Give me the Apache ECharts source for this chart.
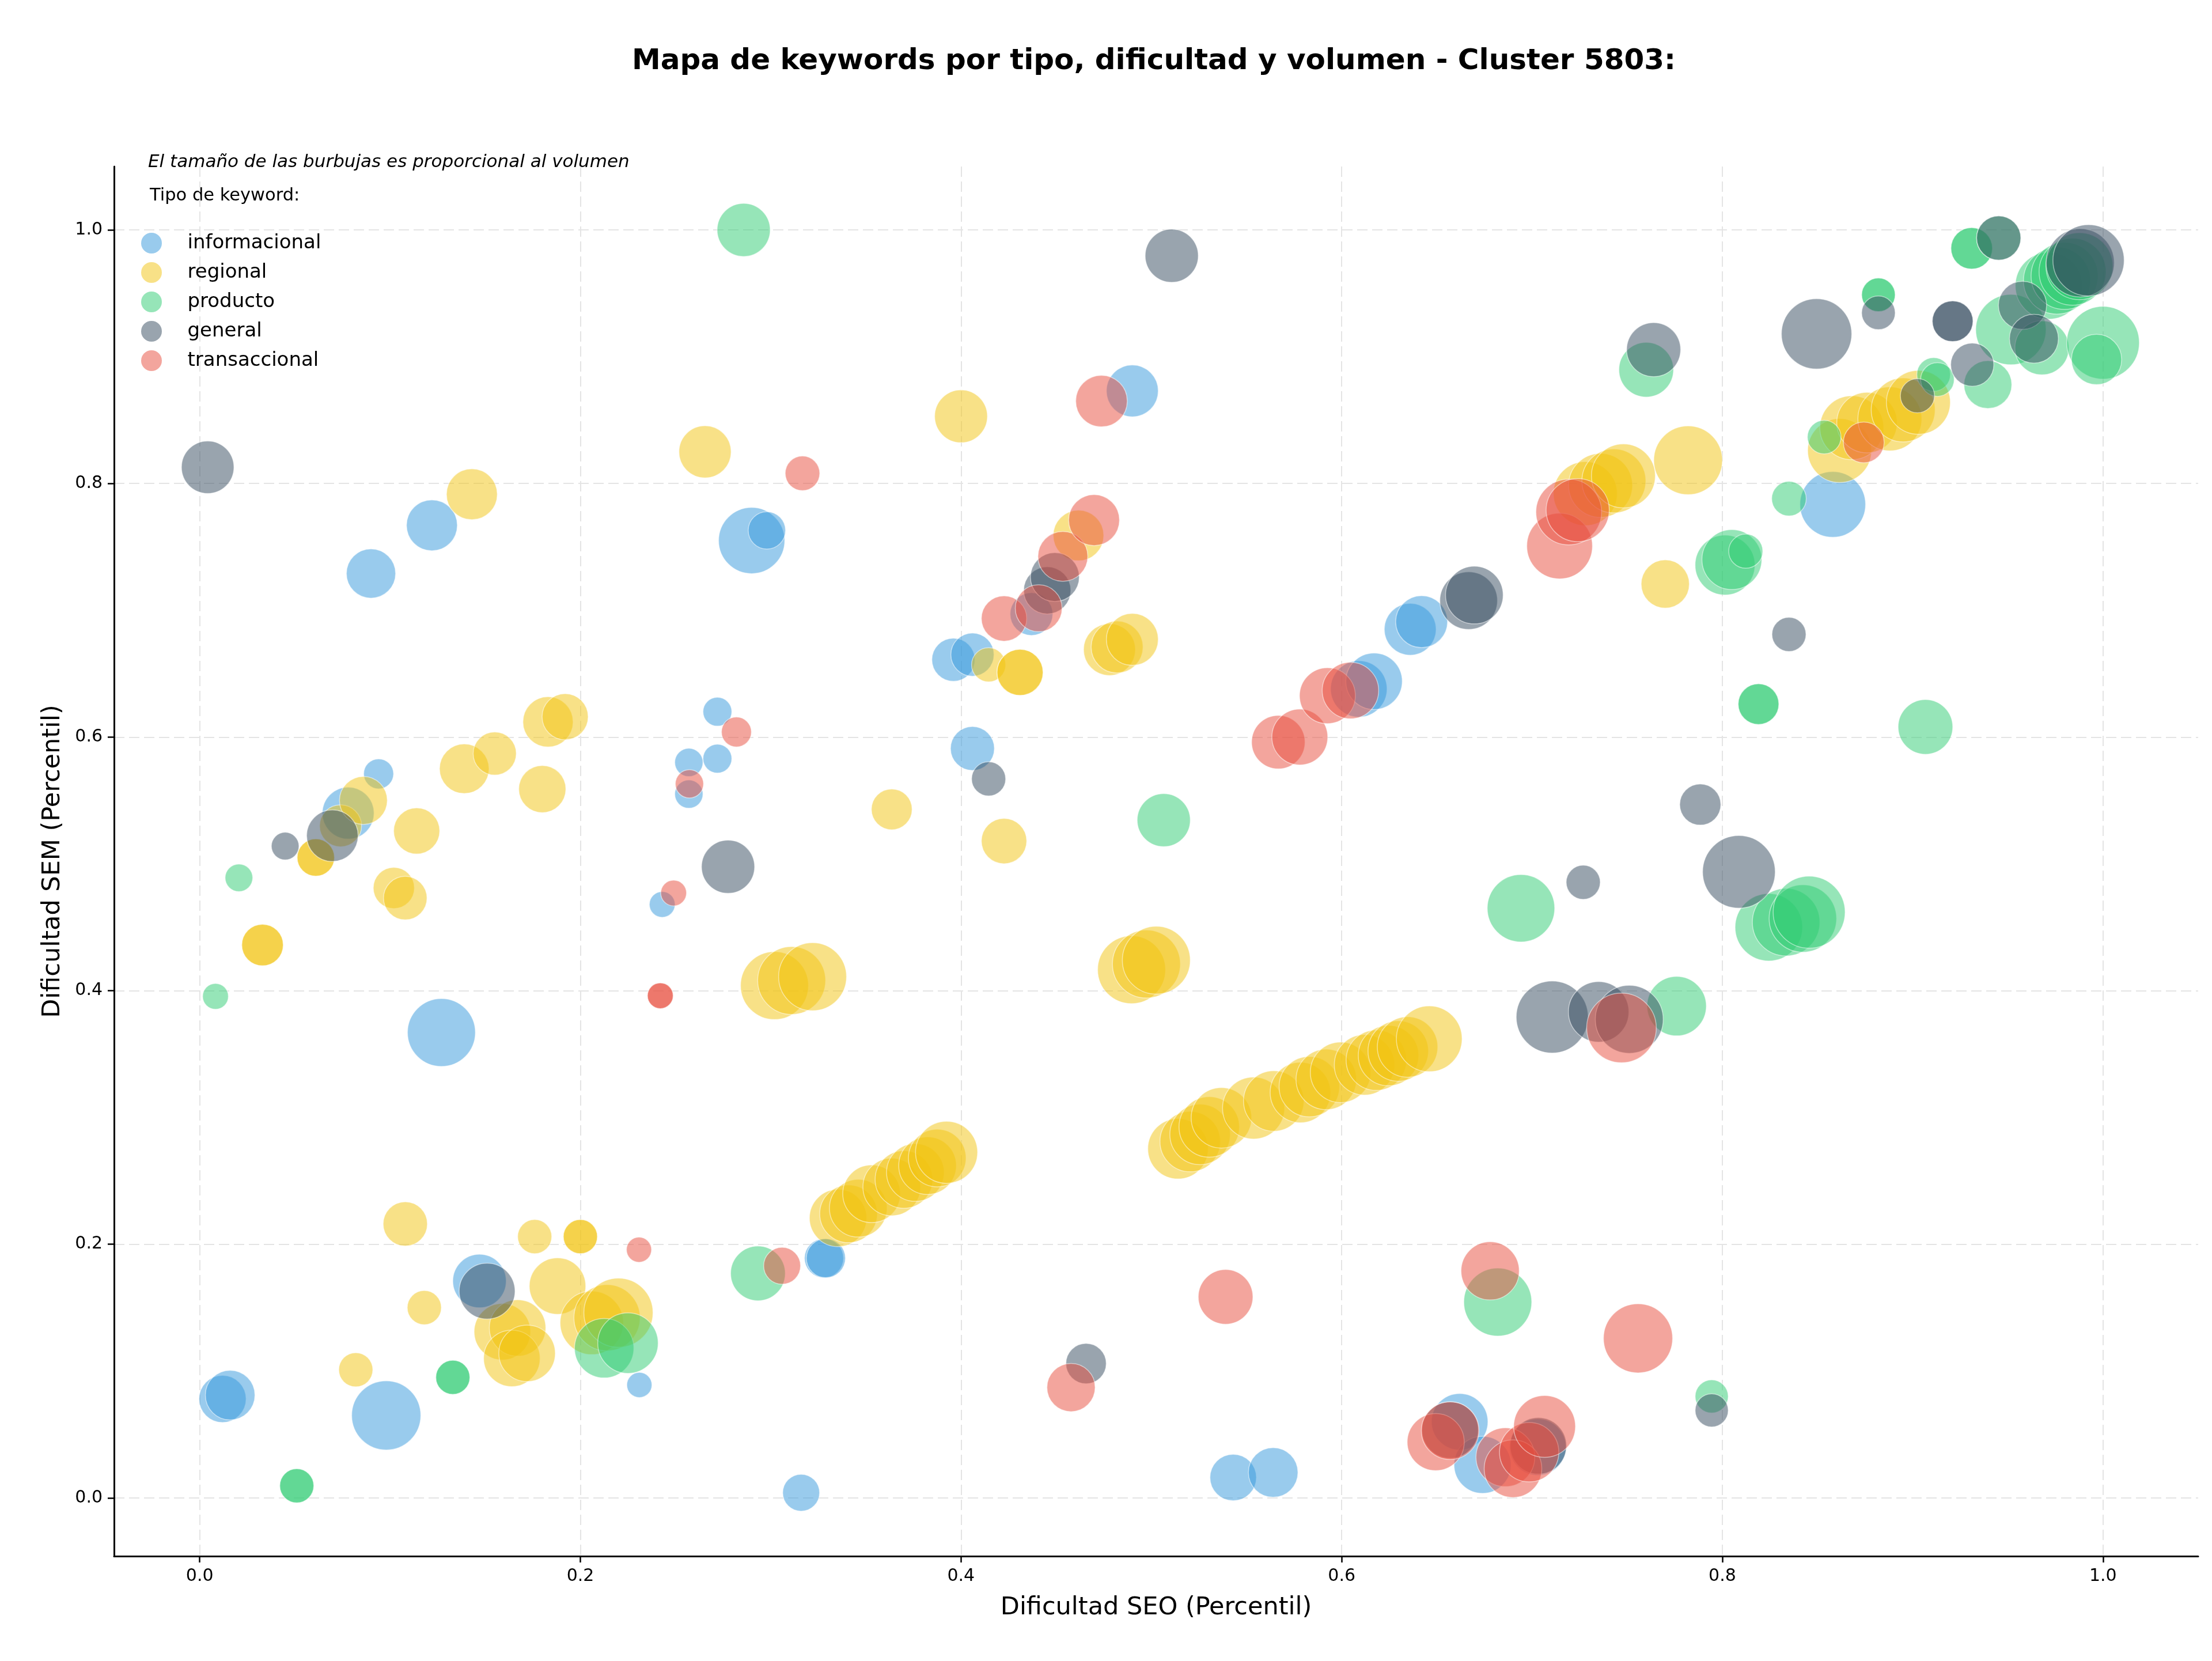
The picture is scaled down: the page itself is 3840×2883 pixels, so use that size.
<!DOCTYPE html>
<html><head><meta charset="utf-8">
<script src="https://cdn.jsdelivr.net/npm/echarts@6/dist/echarts.min.js"></script>
<style>html,body{margin:0;padding:0;background:#fff}#c{width:3840px;height:2883px}</style>
</head><body><div id="c"></div>
<script>
const titleText = 'Mapa de keywords por tipo, dificultad y volumen - Cluster 5803:';
const noteText = 'El tamaño de las burbujas es proporcional al volumen';
const legendTitle = 'Tipo de keyword:';
const xName = 'Dificultad SEO (Percentil)';
const yName = 'Dificultad SEM (Percentil)';
const categories = ['informacional', 'regional', 'producto', 'general', 'transaccional'];
const colors = ['#3498db', '#f1c40f', '#2ecc71', '#34495e', '#e74c3c'];
const xTicks = [0.0, 0.2, 0.4, 0.6, 0.8, 1.0];
const yTicks = [0.0, 0.2, 0.4, 0.6, 0.8, 1.0];

// [dificultad SEO, dificultad SEM, volumen]
const informacional = [
  [0.012,0.078,6700],[0.016,0.081,7400],[0.098,0.065,14400],[0.127,0.367,13900],
  [0.147,0.171,8600],[0.090,0.729,7300],[0.122,0.767,7800],[0.094,0.571,2700],
  [0.078,0.540,8100],[0.231,0.089,1900],[0.243,0.468,2000],[0.257,0.580,2400],
  [0.257,0.555,2400],[0.272,0.620,2500],[0.272,0.583,2500],[0.290,0.755,13200],
  [0.298,0.763,4200],[0.316,0.004,4100],[0.328,0.189,4600],[0.329,0.189,4600],
  [0.396,0.661,5600],[0.406,0.665,5600],[0.406,0.591,5800],[0.437,0.697,5500],
  [0.490,0.873,8100],[0.543,0.016,6500],[0.564,0.020,7400],[0.609,0.638,9600],
  [0.617,0.644,9600],[0.636,0.685,8100],[0.642,0.691,8100],[0.662,0.060,9600],
  [0.674,0.026,9800],[0.703,0.040,9600],[0.858,0.7835,13000]
];
const regional = [
  [0.033,0.436,5200],[0.033,0.436,5200],[0.061,0.505,4200],[0.061,0.505,4200],
  [0.074,0.530,5300],[0.086,0.550,6900],[0.102,0.481,5100],[0.108,0.473,5700],
  [0.114,0.526,6400],[0.139,0.575,7400],[0.155,0.587,5600],[0.143,0.7915,7800],
  [0.180,0.559,6700],[0.183,0.612,7600],[0.192,0.616,6400],[0.108,0.216,5900],
  [0.118,0.150,3500],[0.082,0.101,3500],[0.176,0.206,3500],[0.200,0.206,3500],
  [0.200,0.206,3500],[0.188,0.167,9600],[0.159,0.131,9600],[0.167,0.134,9600],
  [0.164,0.110,9600],[0.172,0.114,9600],[0.206,0.138,12100],[0.214,0.142,13200],
  [0.220,0.146,14400],[0.2655,0.825,8200],[0.400,0.853,8400],[0.4145,0.657,3500],
  [0.431,0.651,6400],[0.431,0.651,6400],[0.3636,0.543,5000],[0.4226,0.518,6200],
  [0.4617,0.759,7700],[0.478,0.669,8100],[0.482,0.671,8100],[0.490,0.677,8100],
  [0.302,0.404,13900],[0.311,0.408,13900],[0.322,0.411,13900],
  [0.4896,0.4165,13900],[0.4974,0.421,13900],[0.5026,0.424,13900],
  [0.3354,0.2207,9900],[0.3409,0.224,10000],[0.346,0.2284,10000],[0.353,0.2398,10000],
  [0.3636,0.2452,10000],[0.370,0.2511,10000],[0.376,0.2566,10000],[0.3824,0.262,10000],
  [0.3875,0.268,10000],[0.3924,0.2725,11600],
  [0.514,0.2753,11000],[0.5204,0.281,11000],[0.5256,0.2866,11000],[0.5304,0.2925,11000],
  [0.5368,0.2997,11000],[0.5537,0.3074,11600],[0.5643,0.313,11000],[0.5783,0.3197,11000],
  [0.583,0.3243,11000],[0.5919,0.330,11000],[0.5994,0.3356,11000],[0.612,0.3415,11000],
  [0.6182,0.3452,11000],[0.6246,0.3488,11000],[0.6297,0.3524,11000],[0.6346,0.3556,11000],
  [0.646,0.362,13000],
  [0.770,0.7207,7000],[0.782,0.8183,14200],[0.728,0.792,12300],[0.736,0.7985,12300],
  [0.743,0.802,12300],[0.748,0.806,12300],[0.8616,0.826,12300],[0.868,0.844,12300],
  [0.876,0.848,11000],[0.888,0.851,12300],[0.895,0.858,12300],[0.903,0.864,12300]
];
const producto = [
  [0.0083,0.3955,2000],[0.0206,0.489,2300],[0.051,0.0095,3500],[0.051,0.0095,3500],
  [0.133,0.095,3500],[0.133,0.095,3500],[0.2125,0.118,10600],[0.225,0.122,11000],
  [0.2858,1.0,8500],[0.2933,0.177,9000],[0.5065,0.5345,8500],[0.6942,0.465,13700],
  [0.682,0.1544,13900],[0.760,0.8897,9000],[0.776,0.3878,10600],[0.7944,0.080,3300],
  [0.8014,0.7357,10800],[0.805,0.740,10800],[0.8123,0.7466,3500],[0.819,0.626,5000],
  [0.819,0.626,5000],[0.8244,0.450,13700],[0.8335,0.454,13700],[0.8423,0.4569,13700],
  [0.8456,0.4619,15600],[0.835,0.788,3600],[0.8535,0.8366,3400],[0.882,0.9488,3400],
  [0.882,0.9488,3400],[0.9067,0.608,9000],[0.911,0.886,3400],[0.913,0.882,3400],
  [0.931,0.9855,5200],[0.931,0.9855,5200],[0.9395,0.878,6900],[0.9516,0.9214,14900],
  [0.9679,0.907,8800],[0.9715,0.956,13500],[0.9758,0.960,13500],[0.9798,0.9637,13500],
  [0.984,0.967,13500],[0.9876,0.9714,13500],[1.0,0.911,15900],[0.9966,0.8978,7600],
  [0.9452,0.9936,5900]
];
const general = [
  [0.0042,0.8128,8300],[0.0449,0.514,2300],[0.0697,0.5222,8000],[0.151,0.163,9400],
  [0.2776,0.4977,8500],[0.4145,0.567,3500],[0.4453,0.7157,6700],[0.4493,0.7262,7200],
  [0.4657,0.1059,4900],[0.5107,0.9796,8500],[0.6667,0.7076,10000],[0.6697,0.712,10000],
  [0.657,0.0535,9600],[0.7033,0.041,9600],[0.7106,0.3792,15600],[0.735,0.3833,11000],
  [0.7511,0.3774,13900],[0.7269,0.4855,3500],[0.7639,0.9056,8800],[0.7884,0.5468,5100],
  [0.8087,0.4937,15900],[0.835,0.681,3500],[0.8495,0.918,14900],[0.882,0.9346,3400],
  [0.9025,0.8692,3500],[0.921,0.928,5000],[0.921,0.928,5000],[0.9313,0.8937,5600],
  [0.9452,0.9936,5900],[0.9577,0.9405,7000],[0.9637,0.9142,7200],[0.988,0.974,14000],
  [0.9924,0.976,15300],[0.7944,0.069,3300]
];
const transaccional = [
  [0.2308,0.1957,1900],[0.242,0.396,2000],[0.242,0.396,2000],[0.249,0.477,2000],
  [0.2573,0.5631,2400],[0.282,0.604,2700],[0.306,0.183,4100],[0.3167,0.808,3600],
  [0.4226,0.6935,6200],[0.4408,0.7016,6600],[0.4535,0.7425,7500],[0.4699,0.7711,7800],
  [0.4738,0.865,8000],[0.4578,0.087,7000],[0.539,0.1585,9000],[0.5667,0.596,8600],
  [0.578,0.600,9400],[0.5925,0.6326,9400],[0.6046,0.6367,9600],[0.6494,0.044,9800],
  [0.657,0.053,10000],[0.678,0.179,10200],[0.686,0.032,10400],[0.690,0.023,10000],
  [0.6985,0.036,10600],[0.7066,0.0563,11500],[0.7145,0.7507,13000],[0.7193,0.7775,13000],
  [0.724,0.779,12000],[0.747,0.3706,14600],[0.7557,0.1258,14400],[0.8743,0.8324,5000]
];
const seriesData = [informacional, regional, producto, general, transaccional];

const FONT = 'DejaVu Sans';
const chart = echarts.init(document.getElementById('c'), null, {renderer: 'canvas', width: 3840, height: 2883, devicePixelRatio: 1});

function axisCommon(ticks) {
  return {
    type: 'value',
    axisLine: {show: true, onZero: false, lineStyle: {color: '#000', width: 3}},
    axisTick: {show: true, customValues: ticks, length: 11, lineStyle: {color: '#000', width: 2.5}},
    axisLabel: {show: true, customValues: ticks, formatter: v => Number(v).toFixed(1),
      fontSize: 30, color: '#000', fontFamily: FONT, margin: 20},
    splitLine: {show: true, lineStyle: {color: '#e4e4e4', width: 2, type: [18, 8]}},
    nameLocation: 'middle',
    nameTextStyle: {fontSize: 43, color: '#000', fontFamily: FONT}
  };
}

const option = {
  backgroundColor: '#ffffff',
  animation: false,
  textStyle: {fontFamily: FONT},
  grid: {left: 198, right: 24, top: 289, bottom: 182, containLabel: false},
  xAxis: Object.assign(axisCommon(xTicks), {min: -0.045, max: 1.05, name: xName, nameGap: 68}),
  yAxis: Object.assign(axisCommon(yTicks), {min: -0.046, max: 1.05, name: yName, nameGap: 85}),
  legend: {
    orient: 'vertical', left: 240, top: 399,
    itemWidth: 115, itemHeight: 36, itemGap: 15, icon: 'circle',
    itemStyle: {opacity: 0.5, borderWidth: 0},
    textStyle: {fontSize: 34, lineHeight: 36, color: '#000', fontFamily: FONT},
    data: categories
  },
  graphic: [
    {type: 'text', x: 2003, y: 107, style: {text: titleText, fontSize: 50, fontWeight: 'bold', fontFamily: FONT, fill: '#000', align: 'center', verticalAlign: 'middle'}},
    {type: 'text', x: 257, y: 282, style: {text: noteText, fontSize: 31, fontStyle: 'italic', fontFamily: FONT, fill: '#000', align: 'left', verticalAlign: 'middle'}},
    {type: 'text', x: 260, y: 340, style: {text: legendTitle, fontSize: 30.5, fontFamily: FONT, fill: '#000', align: 'left', verticalAlign: 'middle'}}
  ],
  series: categories.map((name, i) => ({
    name: name,
    type: 'scatter',
    data: seriesData[i],
    symbol: 'circle',
    symbolSize: d => Math.sqrt(d[2]),
    itemStyle: {color: colors[i], opacity: 0.5, borderColor: '#ffffff', borderWidth: 1.5},
    emphasis: {disabled: true},
    silent: true
  }))
};
chart.setOption(option);
</script>
</body></html>
